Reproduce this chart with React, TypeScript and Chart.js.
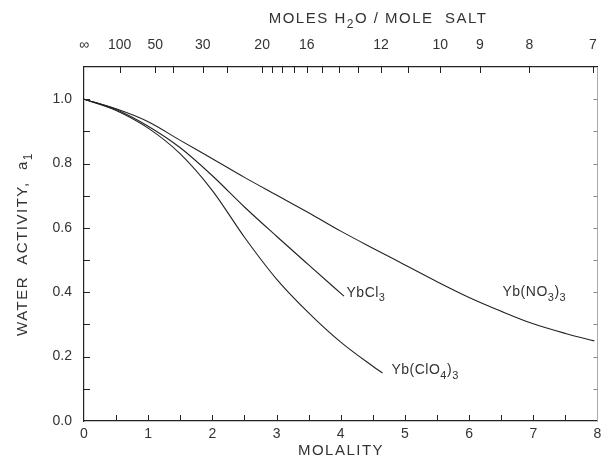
import React, { useEffect, useRef } from "react";
import { Chart, registerables } from "chart.js";

Chart.register(...registerables);

// ---- Data ----
const nitrateMolality = [0, 0.5, 1, 1.5, 2, 2.5, 3, 3.5, 4, 4.5, 5, 5.5, 6, 6.5, 7, 7.5, 7.95];
const nitrateActivity = [1.0, 0.97, 0.93, 0.872, 0.815, 0.757, 0.702, 0.647, 0.59, 0.537, 0.485, 0.433, 0.384, 0.341, 0.302, 0.272, 0.249];

const chlorideMolality = [0, 0.5, 1, 1.5, 2, 2.5, 3, 3.5, 4.05];
const chlorideActivity = [1.0, 0.968, 0.916, 0.849, 0.762, 0.665, 0.574, 0.485, 0.388];

const perchlorateMolality = [0, 0.5, 1, 1.5, 2, 2.5, 3, 3.5, 4, 4.5, 4.65];
const perchlorateActivity = [1.0, 0.965, 0.91, 0.83, 0.716, 0.571, 0.441, 0.336, 0.245, 0.17, 0.149];

// Top axis: moles H2O per mole salt (55.51 / molality)
const WATER_MOLES_PER_KG = 55.51;
const topTickMoles = [Infinity, 100, 50, 40, 30, 25, 20, 19, 18, 17, 16, 15, 14, 13, 12, 11, 10, 9, 8, 7];
const topTickLabels = ["∞", "100", "50", "", "30", "", "20", "", "", "", "16", "", "", "", "12", "", "10", "9", "8", "7"];

const bottomTickValues = [0.5, 1, 1.5, 2, 2.5, 3, 3.5, 4, 4.5, 5, 5.5, 6, 6.5, 7, 7.5];
const leftTickValues = [0.1, 0.2, 0.3, 0.4, 0.5, 0.6, 0.7, 0.8, 0.9, 1.0];

const seriesLabels = [
  { parts: [{ t: "YbCl" }, { t: "3", sub: true }], m: 4.09, a: 0.398 },
  { parts: [{ t: "Yb(NO" }, { t: "3", sub: true }, { t: ")" }, { t: "3", sub: true }], m: 6.52, a: 0.4 },
  { parts: [{ t: "Yb(ClO" }, { t: "4", sub: true }, { t: ")" }, { t: "3", sub: true }], m: 4.79, a: 0.158 },
];

const FONT = "'Liberation Sans', 'DejaVu Sans', sans-serif";
const TEXT = "#333";
const LINE = "#222";

type Seg = { t: string; sub?: boolean };

function drawRich(ctx: CanvasRenderingContext2D, segs: Seg[], x: number, y: number, align: "left" | "center", size: number, spacing = 0) {
  const sub = Math.round(size * 0.78);
  ctx.textBaseline = "middle";
  ctx.textAlign = "left";
  (ctx as any).letterSpacing = spacing + "px";
  const widths = segs.map((s) => {
    ctx.font = `${s.sub ? sub : size}px ${FONT}`;
    return ctx.measureText(s.t).width;
  });
  const total = widths.reduce((a, b) => a + b, 0);
  let cx = align === "center" ? x - total / 2 : x;
  segs.forEach((s, i) => {
    ctx.font = `${s.sub ? sub : size}px ${FONT}`;
    ctx.fillText(s.t, cx, s.sub ? y + size * 0.38 : y);
    cx += widths[i];
  });
  (ctx as any).letterSpacing = "0px";
}

const decorPlugin = {
  id: "decor",
  afterDraw(chart: any) {
    const ctx: CanvasRenderingContext2D = chart.ctx;
    const { x, y, xTop, yRight } = chart.scales;
    const area = chart.chartArea;
    ctx.save();
    ctx.strokeStyle = LINE;
    ctx.lineWidth = 1;
    ctx.beginPath();
    // bottom ticks (inward)
    bottomTickValues.forEach((v) => {
      const px = Math.round(x.getPixelForValue(v)) + 0.5;
      ctx.moveTo(px, area.bottom);
      ctx.lineTo(px, area.bottom - 6);
    });
    // left ticks (inward)
    leftTickValues.forEach((v) => {
      const py = Math.round(y.getPixelForValue(v)) + 0.5;
      ctx.moveTo(area.left, py);
      ctx.lineTo(area.left + 6, py);
    });
    // top ticks (inward)
    topTickMoles.forEach((n) => {
      if (!isFinite(n)) return;
      const px = Math.round(xTop.getPixelForValue(WATER_MOLES_PER_KG / n)) + 0.5;
      ctx.moveTo(px, area.top);
      ctx.lineTo(px, area.top + 6);
    });
    ctx.stroke();
    // right ticks (inward, faint)
    ctx.strokeStyle = "#888";
    ctx.beginPath();
    leftTickValues.forEach((v) => {
      const py = Math.round(yRight.getPixelForValue(v)) + 0.5;
      ctx.moveTo(area.right, py);
      ctx.lineTo(area.right - 4, py);
    });
    ctx.stroke();

    ctx.fillStyle = TEXT;
    // titles
    drawRich(ctx, [{ t: "MOLES H" }, { t: "2", sub: true }, { t: "O / MOLE  SALT" }], 378, 19, "center", 15, 1.5);
    drawRich(ctx, [{ t: "MOLALITY" }], 341, 451, "center", 15, 1.5);
    ctx.save();
    ctx.translate(23, (area.top + area.bottom) / 2);
    ctx.rotate(-Math.PI / 2);
    drawRich(ctx, [{ t: "WATER  ACTIVITY,  a" }, { t: "1", sub: true }], 0, 0, "center", 15, 1.5);
    ctx.restore();

    // series labels
    seriesLabels.forEach((l) => {
      drawRich(ctx, l.parts, x.getPixelForValue(l.m), y.getPixelForValue(l.a), "left", 14, 0.5);
    });
    ctx.restore();
  },
};

function toPoints(ms: number[], as: number[]) {
  return ms.map((m, i) => ({ x: m, y: as[i] }));
}

export default function App() {
  const ref = useRef<HTMLCanvasElement>(null);
  useEffect(() => {
    document.body.style.margin = "0";
    const lineDs = (data: { x: number; y: number }[]) => ({
      data,
      borderColor: LINE,
      borderWidth: 1.1,
      pointRadius: 0,
      fill: false,
      cubicInterpolationMode: "monotone" as const,
      xAxisID: "x",
      yAxisID: "y",
    });
    const tickFont = { family: FONT, size: 14 };
    const chart = new Chart(ref.current!, {
      type: "line",
      data: {
        datasets: [
          lineDs(toPoints(nitrateMolality, nitrateActivity)),
          lineDs(toPoints(chlorideMolality, chlorideActivity)),
          lineDs(toPoints(perchlorateMolality, perchlorateActivity)),
        ],
      },
      options: {
        animation: false,
        responsive: false,
        maintainAspectRatio: false,
        layout: { padding: 0 },
        plugins: { legend: { display: false }, tooltip: { enabled: false } },
        scales: {
          x: {
            type: "linear",
            position: "bottom",
            min: 0,
            max: 8,
            grid: { display: false, drawTicks: false },
            border: { display: true, color: LINE, width: 1.2 },
            ticks: {
              stepSize: 1,
              autoSkip: false,
              maxRotation: 0,
              padding: 5,
              color: TEXT,
              font: tickFont,
              callback: (v: any) => String(v),
            },
            afterFit: (s: any) => {
              s.height = 39;
            },
          },
          xTop: {
            type: "linear",
            position: "top",
            min: 0,
            max: 8,
            grid: { display: false, drawTicks: false },
            border: { display: true, color: LINE, width: 1.2 },
            afterBuildTicks: (s: any) => {
              s.ticks = topTickMoles.map((n) => ({ value: isFinite(n) ? WATER_MOLES_PER_KG / n : 0 }));
            },
            ticks: {
              autoSkip: false,
              maxRotation: 0,
              padding: 13,
              color: TEXT,
              font: tickFont,
              callback: (_v: any, i: number) => topTickLabels[i],
            },
            afterFit: (s: any) => {
              s.height = 67;
            },
          },
          y: {
            type: "linear",
            position: "left",
            min: 0,
            max: 1.1,
            grid: { display: false, drawTicks: false },
            border: { display: true, color: LINE, width: 1.2 },
            ticks: {
              stepSize: 0.2,
              autoSkip: false,
              padding: 12,
              color: TEXT,
              font: tickFont,
              callback: (v: any) => (Math.round(v * 10) % 2 === 0 ? Number(v).toFixed(1) : ""),
            },
            afterFit: (s: any) => {
              s.width = 84;
            },
          },
          yRight: {
            type: "linear",
            position: "right",
            min: 0,
            max: 1.1,
            grid: { display: false, drawTicks: false },
            border: { display: true, color: "#aaa", width: 1 },
            ticks: { display: false },
            afterFit: (s: any) => {
              s.width = 12;
            },
          },
        },
      },
      plugins: [decorPlugin],
    });
    return () => chart.destroy();
  }, []);
  return <canvas ref={ref} width={610} height={460} style={{ display: "block", width: 610, height: 460 }} />;
}
